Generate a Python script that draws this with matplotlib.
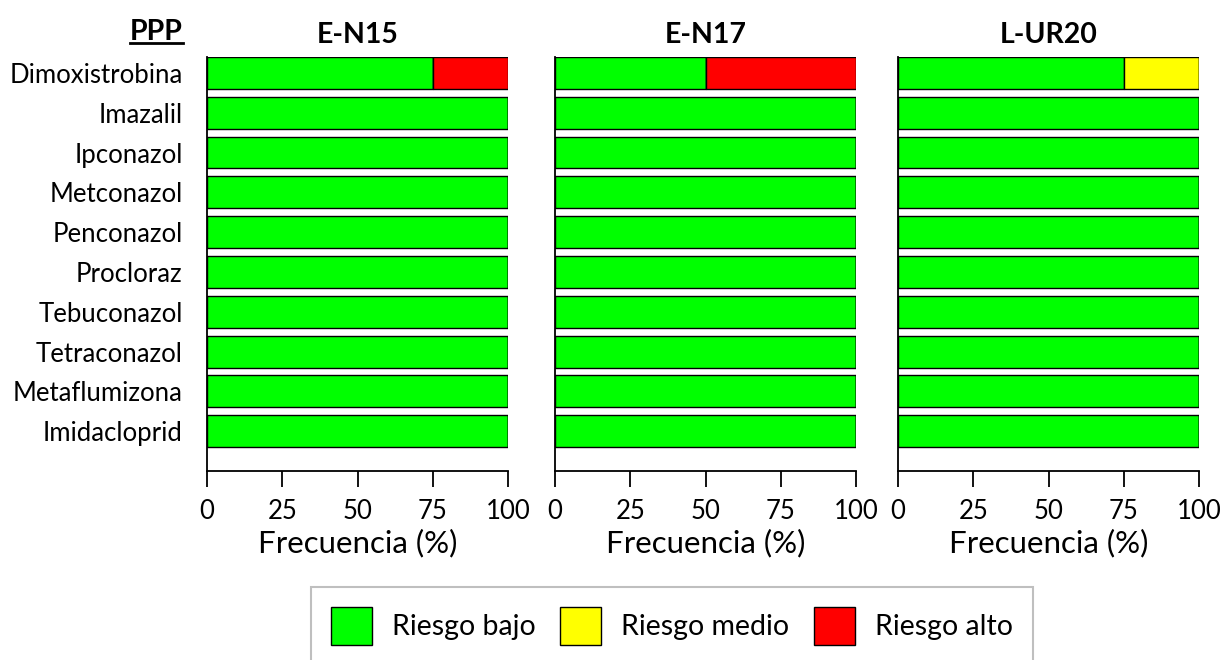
import matplotlib
matplotlib.use("Agg")
import matplotlib.pyplot as plt
from matplotlib.patches import Patch, Rectangle
from matplotlib.lines import Line2D

plt.rcParams['font.family'] = ['Lato', 'DejaVu Sans']

ppp = ['Dimoxistrobina', 'Imazalil', 'Ipconazol', 'Metconazol', 'Penconazol',
       'Procloraz', 'Tebuconazol', 'Tetraconazol', 'Metaflumizona', 'Imidacloprid']
sites = ['E-N15', 'E-N17', 'L-UR20']

# frequency (%) per risk level, one list per site
bajo = {
    'E-N15': [75, 100, 100, 100, 100, 100, 100, 100, 100, 100],
    'E-N17': [50, 100, 100, 100, 100, 100, 100, 100, 100, 100],
    'L-UR20': [75, 100, 100, 100, 100, 100, 100, 100, 100, 100],
}
medio = {
    'E-N15': [0, 0, 0, 0, 0, 0, 0, 0, 0, 0],
    'E-N17': [0, 0, 0, 0, 0, 0, 0, 0, 0, 0],
    'L-UR20': [25, 0, 0, 0, 0, 0, 0, 0, 0, 0],
}
alto = {
    'E-N15': [25, 0, 0, 0, 0, 0, 0, 0, 0, 0],
    'E-N17': [50, 0, 0, 0, 0, 0, 0, 0, 0, 0],
    'L-UR20': [0, 0, 0, 0, 0, 0, 0, 0, 0, 0],
}
xticks = [0, 25, 50, 75, 100]

c_bajo, c_medio, c_alto = '#00ff00', '#ffff00', '#ff0000'

fig = plt.figure(figsize=(12.22, 6.6), dpi=100)
W = 1222
H = 660
lefts = [207 / W, 555 / W, 898 / W]
width = 301 / W
bottom = 1 - 471 / H
height = (471 - 57) / H

ypos = list(range(len(ppp)))
for i, site in enumerate(sites):
    ax = fig.add_axes([lefts[i], bottom, width, height])
    b = bajo[site]
    m = medio[site]
    a = alto[site]
    left_a = [x + y for x, y in zip(b, m)]
    ax.barh(ypos, b, height=0.8, color=c_bajo, edgecolor='black', linewidth=1)
    ax.barh(ypos, m, left=b, height=0.8, color=c_medio, edgecolor='black', linewidth=1)
    ax.barh(ypos, a, left=left_a, height=0.8, color=c_alto, edgecolor='black', linewidth=1)
    ax.set_ylim(len(ppp), -0.4)
    ax.set_xlim(0, 100)
    ax.spines['top'].set_visible(False)
    ax.spines['right'].set_visible(False)
    ax.spines['left'].set_linewidth(1.3)
    ax.spines['bottom'].set_linewidth(1.3)
    ax.set_xticks(xticks)
    ax.tick_params(axis='x', length=11.5, width=1.3, labelsize=18.5, pad=9)
    ax.tick_params(axis='y', left=False, labelsize=18.5, pad=14)
    ax.set_yticks(ypos)
    if i == 0:
        ax.set_yticklabels(ppp)
    else:
        ax.set_yticklabels([])
    ax.set_xlabel('Frecuencia (%)', fontsize=22.5, labelpad=3)
    ax.set_title(site, fontsize=20.5, fontweight='bold', pad=10)

# "PPP" header, underlined
t = fig.text(183 / W, 1 - 32 / H, 'PPP', fontsize=20.5, fontweight='bold',
             ha='right', va='center')
fig.canvas.draw()
bb = t.get_window_extent().transformed(fig.transFigure.inverted())
fig.add_artist(Line2D([bb.x0, bb.x1], [bb.y0 + 0.003, bb.y0 + 0.003],
                      transform=fig.transFigure, color='black', linewidth=2))

# legend frame (bottom edge cut off by the figure)
fig.add_artist(Rectangle((311 / W, -0.1), 722 / W, 0.1 + (1 - 587 / H),
                         transform=fig.transFigure, facecolor='none',
                         edgecolor='#bfbfbf', linewidth=1.5))
handles = [Patch(facecolor=c_bajo, edgecolor='black', label='Riesgo bajo'),
           Patch(facecolor=c_medio, edgecolor='black', label='Riesgo medio'),
           Patch(facecolor=c_alto, edgecolor='black', label='Riesgo alto')]
fig.legend(handles=handles, loc='center', bbox_to_anchor=(672 / W, 1 - 626 / H),
           ncol=3, frameon=False, fontsize=20.5, handlelength=1.44, handleheight=1.67,
           handletextpad=0.7, columnspacing=0.88)

fig.savefig('out.png', dpi=100)
